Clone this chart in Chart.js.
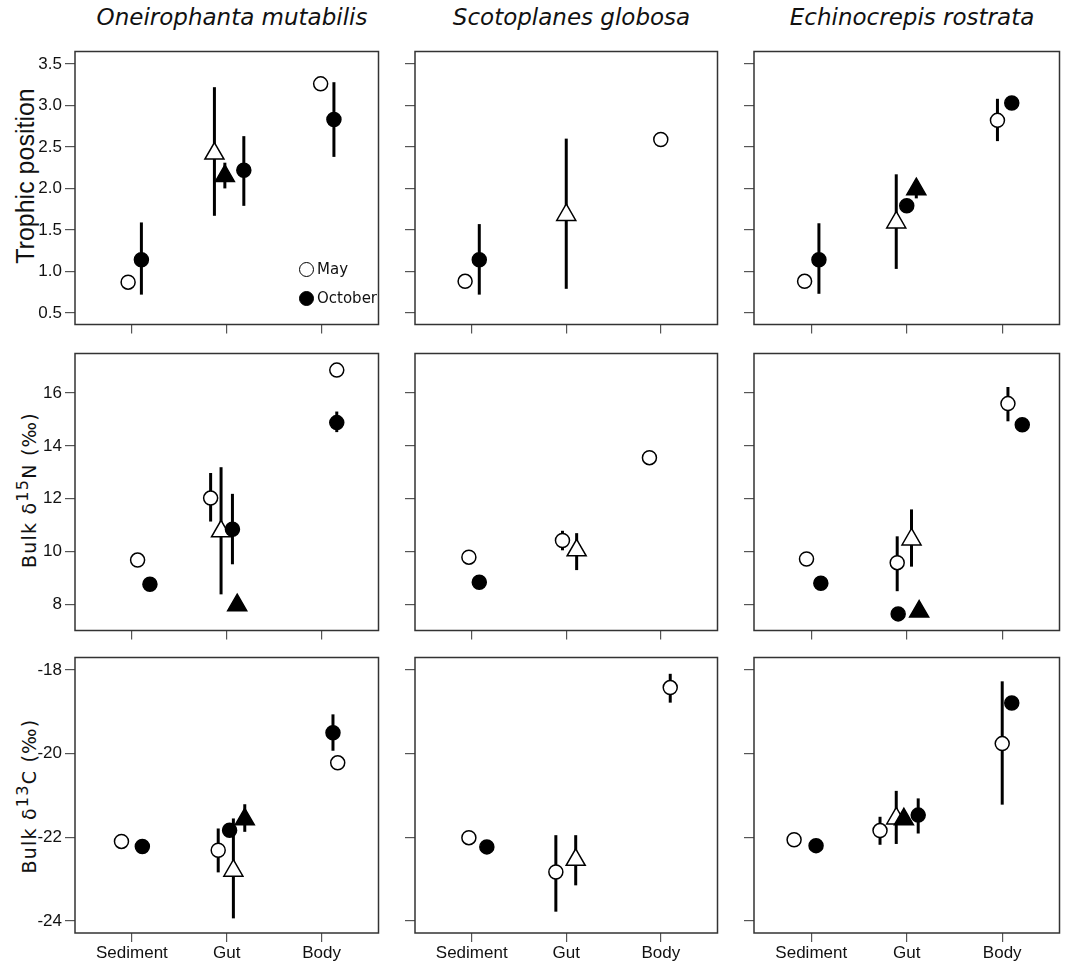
<!DOCTYPE html>
<html>
<head>
<meta charset="utf-8">
<script src="https://cdn.jsdelivr.net/npm/chart.js@4.4.1/dist/chart.umd.min.js"></script>
<style>
  body { margin: 0; background: #fff; }
  #wrap { position: relative; width: 1074px; height: 963px; overflow: hidden; background: #fff; }
  #wrap canvas { position: absolute; }
  .sp { position: absolute; top: 4px; height: 28px; line-height: 28px; text-align: center;
        font: italic 23px "DejaVu Sans"; color: #111; white-space: nowrap; }
  .yt { position: absolute; white-space: nowrap; color: #111;
        transform: translate(-50%, -50%) rotate(-90deg); }
  .yt sup { font-size: 0.85em; vertical-align: 0.5em; line-height: 0; }
  .lg { position: absolute; height: 29px; display: flex; align-items: center;
        font: 15px "DejaVu Sans"; color: #111; white-space: nowrap; }
  .lg span { display: inline-block; box-sizing: border-box; width: 15px; height: 15px;
             border: 1.5px solid #000; border-radius: 50%; margin-right: 3px; }
</style>
</head>
<body>
<div id="wrap"></div>
<script>
const categories = ['Sediment', 'Gut', 'Body'];
const species = ['Oneirophanta mutabilis', 'Scotoplanes globosa', 'Echinocrepis rostrata'];
const xTicks = [0, 1, 2];
const tpTicks = [0.5, 1.0, 1.5, 2.0, 2.5, 3.0, 3.5];
const n15Ticks = [8, 10, 12, 14, 16];
const c13Ticks = [-24, -22, -20, -18];

// ---- trophic position ----
// Oneirophanta mutabilis
const omTpMay = [0.87, null, 3.26];
const omTpMayErr = [null, null, null];
const omTpOct = [1.14, 2.22, 2.83];
const omTpOctErr = [[0.72, 1.59], [1.79, 2.63], [2.38, 3.28]];
const omTpMayTri = [null, 2.42, null];
const omTpMayTriErr = [null, [1.67, 3.22], null];
const omTpOctTri = [null, 2.15, null];
const omTpOctTriErr = [null, [2.0, 2.31], null];
// Scotoplanes globosa
const sgTpMay = [0.88, null, 2.59];
const sgTpMayErr = [null, null, null];
const sgTpOct = [1.14, null, null];
const sgTpOctErr = [[0.72, 1.57], null, null];
const sgTpMayTri = [null, 1.68, null];
const sgTpMayTriErr = [null, [0.79, 2.60], null];
const sgTpOctTri = [null, null, null];
const sgTpOctTriErr = [null, null, null];
// Echinocrepis rostrata
const erTpMay = [0.88, null, 2.82];
const erTpMayErr = [null, null, [2.57, 3.08]];
const erTpOct = [1.14, 1.79, 3.03];
const erTpOctErr = [[0.73, 1.58], null, null];
const erTpMayTri = [null, 1.59, null];
const erTpMayTriErr = [null, [1.03, 2.17], null];
const erTpOctTri = [null, 1.99, null];
const erTpOctTriErr = [null, [1.88, 2.08], null];

// ---- bulk d15N ----
const omNMay = [9.67, 12.02, 16.87];
const omNMayErr = [null, [11.13, 12.97], null];
const omNOct = [8.75, 10.84, 14.88];
const omNOctErr = [null, [9.51, 12.18], [14.52, 15.30]];
const omNMayTri = [null, 10.76, null];
const omNMayTriErr = [null, [8.37, 13.19], null];
const omNOctTri = [null, 7.96, null];
const omNOctTriErr = [null, null, null];

const sgNMay = [9.78, 10.41, 13.55];
const sgNMayErr = [null, [10.04, 10.78], null];
const sgNOct = [8.83, null, null];
const sgNOctErr = [null, null, null];
const sgNMayTri = [null, 10.04, null];
const sgNMayTriErr = [null, [9.29, 10.69], null];
const sgNOctTri = [null, null, null];
const sgNOctTriErr = [null, null, null];

const erNMay = [9.71, 9.57, 15.6];
const erNMayErr = [null, [8.49, 10.57], [14.93, 16.23]];
const erNOct = [8.79, 7.63, 14.80];
const erNOctErr = [null, null, null];
const erNMayTri = [null, 10.45, null];
const erNMayTriErr = [null, [9.42, 11.59], null];
const erNOctTri = [null, 7.72, null];
const erNOctTriErr = [null, null, null];

// ---- bulk d13C ----
const omCMay = [-22.10, -22.31, -20.22];
const omCMayErr = [null, [-22.84, -21.79], null];
const omCOct = [-22.22, -21.83, -19.50];
const omCOctErr = [null, null, [-19.93, -19.06]];
const omCMayTri = [null, -22.80, null];
const omCMayTriErr = [null, [-23.94, -21.55], null];
const omCOctTri = [null, -21.57, null];
const omCOctTriErr = [null, [-21.87, -21.21], null];

const sgCMay = [-22.01, -22.83, -18.42];
const sgCMayErr = [null, [-23.78, -21.95], [-18.78, -18.09]];
const sgCOct = [-22.23, null, null];
const sgCOctErr = [null, null, null];
const sgCMayTri = [null, -22.54, null];
const sgCMayTriErr = [null, [-23.15, -21.95], null];
const sgCOctTri = [null, null, null];
const sgCOctTriErr = [null, null, null];

const erCMay = [-22.06, -21.84, -19.76];
const erCMayErr = [null, [-22.18, -21.51], [-21.22, -18.27]];
const erCOct = [-22.20, -21.47, -18.79];
const erCOctErr = [null, [-21.91, -21.07], null];
const erCMayTri = [null, -21.55, null];
const erCMayTriErr = [null, [-22.16, -20.89], null];
const erCOctTri = [null, -21.57, null];
const erCOctTriErr = [null, null, null];

// dodge offsets within a category: May, October, May triangle, October triangle
const omTpDx = [[-0.04, 0, -0.01], [0.10, 0.18, 0.13], [0, -0.13, 0], [0, -0.02, 0]];
const sgTpDx = [[-0.07, 0, 0], [0.08, 0, 0], [0, 0, 0], [0, 0, 0]];
const erTpDx = [[-0.07, 0, -0.05], [0.08, 0, 0.10], [0, -0.11, 0], [0, 0.10, 0]];
const omNDx = [[0.06, -0.17, 0.16], [0.19, 0.06, 0.16], [0, -0.06, 0], [0, 0.11, 0]];
const sgNDx = [[-0.03, -0.04, -0.12], [0.08, 0, 0], [0, 0.11, 0], [0, 0, 0]];
const erNDx = [[-0.05, -0.10, 0.06], [0.10, -0.09, 0.21], [0, 0.05, 0], [0, 0.13, 0]];
const omCDx = [[-0.11, -0.09, 0.17], [0.11, 0.03, 0.12], [0, 0.07, 0], [0, 0.19, 0]];
const sgCDx = [[-0.03, -0.11, 0.10], [0.16, 0, 0], [0, 0.10, 0], [0, 0, 0]];
const erCDx = [[-0.18, -0.28, 0], [0.05, 0.12, 0.10], [0, -0.11, 0], [0, -0.03, 0]];

// page layout (pixels)
const colBox = [[75, 389], [415, 728], [754, 1070]];
const rowBox = [[43, 325], [345, 631], [649, 933]];
const yAxisW = [75, 26, 26];
const xAxisH = [12, 12, 30];
const yRange = [[0.36, 3.65], [7.0, 17.5], [-24.29, -17.7]];
const rowTicks = [tpTicks, n15Ticks, c13Ticks];

const panels = [
  [[omTpMay, omTpMayErr, omTpOct, omTpOctErr, omTpMayTri, omTpMayTriErr, omTpOctTri, omTpOctTriErr, omTpDx],
   [sgTpMay, sgTpMayErr, sgTpOct, sgTpOctErr, sgTpMayTri, sgTpMayTriErr, sgTpOctTri, sgTpOctTriErr, sgTpDx],
   [erTpMay, erTpMayErr, erTpOct, erTpOctErr, erTpMayTri, erTpMayTriErr, erTpOctTri, erTpOctTriErr, erTpDx]],
  [[omNMay, omNMayErr, omNOct, omNOctErr, omNMayTri, omNMayTriErr, omNOctTri, omNOctTriErr, omNDx],
   [sgNMay, sgNMayErr, sgNOct, sgNOctErr, sgNMayTri, sgNMayTriErr, sgNOctTri, sgNOctTriErr, sgNDx],
   [erNMay, erNMayErr, erNOct, erNOctErr, erNMayTri, erNMayTriErr, erNOctTri, erNOctTriErr, erNDx]],
  [[omCMay, omCMayErr, omCOct, omCOctErr, omCMayTri, omCMayTriErr, omCOctTri, omCOctTriErr, omCDx],
   [sgCMay, sgCMayErr, sgCOct, sgCOctErr, sgCMayTri, sgCMayTriErr, sgCOctTri, sgCOctTriErr, sgCDx],
   [erCMay, erCMayErr, erCOct, erCOctErr, erCMayTri, erCMayTriErr, erCOctTri, erCOctTriErr, erCDx]]
];

function points(vals, errs, dx) {
  const out = [];
  vals.forEach((v, i) => {
    if (v === null) return;
    out.push({ x: xTicks[i] + dx[i], y: v, err: errs[i] });
  });
  return out;
}

// error bars are drawn under the symbols
const errorBars = {
  id: 'errorBars',
  beforeDatasetsDraw(chart) {
    const ctx = chart.ctx;
    const ys = chart.scales.y;
    ctx.save();
    ctx.strokeStyle = '#000';
    ctx.lineWidth = 3;
    chart.data.datasets.forEach((ds, i) => {
      const meta = chart.getDatasetMeta(i);
      ds.data.forEach((d, j) => {
        if (!d.err) return;
        const x = meta.data[j].x;
        ctx.beginPath();
        ctx.moveTo(x, ys.getPixelForValue(d.err[0]));
        ctx.lineTo(x, ys.getPixelForValue(d.err[1]));
        ctx.stroke();
      });
    });
    ctx.restore();
  }
};

const frame = {
  id: 'frame',
  beforeDatasetsDraw(chart) {
    const { ctx, chartArea: a } = chart;
    ctx.save();
    ctx.strokeStyle = '#333';
    ctx.lineWidth = 1.5;
    ctx.strokeRect(a.left, a.top, a.right - a.left, a.bottom - a.top);
    ctx.restore();
  }
};

const wrap = document.getElementById('wrap');

// column titles
species.forEach((s, c) => {
  const d = document.createElement('div');
  d.className = 'sp';
  d.style.left = colBox[c][0] + 'px';
  d.style.width = (colBox[c][1] - colBox[c][0]) + 'px';
  d.textContent = s;
  wrap.appendChild(d);
});

// row titles
const rowTitleHtml = ['Trophic position', 'Bulk δ<sup>15</sup>N (‰)', 'Bulk δ<sup>13</sup>C (‰)'];
const rowTitleStyle = [
  { x: 25, y: 176, font: '25px "Liberation Sans"', ls: '0px' },
  { x: 29, y: 490, font: '19px "DejaVu Sans"', ls: '1.2px' },
  { x: 29, y: 796, font: '19px "DejaVu Sans"', ls: '1.2px' }
];
rowTitleHtml.forEach((t, r) => {
  const d = document.createElement('div');
  d.className = 'yt';
  d.style.left = rowTitleStyle[r].x + 'px';
  d.style.top = rowTitleStyle[r].y + 'px';
  d.style.font = rowTitleStyle[r].font;
  d.style.letterSpacing = rowTitleStyle[r].ls;
  d.innerHTML = t;
  wrap.appendChild(d);
});

const tickFont = { family: 'Liberation Sans', size: 17 };

panels.forEach((rowPanels, r) => {
  rowPanels.forEach((p, c) => {
    const [may, mayErr, oct, octErr, mayTri, mayTriErr, octTri, octTriErr, dx] = p;
    const boxW = colBox[c][1] - colBox[c][0];
    const boxH = rowBox[r][1] - rowBox[r][0];
    const cv = document.createElement('canvas');
    cv.width = yAxisW[c] + boxW + 2;
    cv.height = 4 + boxH + xAxisH[r];
    cv.style.left = (colBox[c][0] - yAxisW[c]) + 'px';
    cv.style.top = (rowBox[r][0] - 4) + 'px';
    wrap.appendChild(cv);

    const circle = { pointStyle: 'circle', pointRadius: 7, pointBorderColor: '#000', pointBorderWidth: 1.5, showLine: false };
    const tri = { pointStyle: 'triangle', pointRadius: 11, pointBorderColor: '#000', pointBorderWidth: 1.5, showLine: false };

    new Chart(cv.getContext('2d'), {
      type: 'scatter',
      data: {
        // first dataset is drawn on top
        datasets: [
          Object.assign({ label: 'October', data: points(oct, octErr, dx[1]), pointBackgroundColor: '#000' }, circle),
          Object.assign({ label: 'May', data: points(may, mayErr, dx[0]), pointBackgroundColor: '#fff' }, circle),
          Object.assign({ label: 'October (gut)', data: points(octTri, octTriErr, dx[3]), pointBackgroundColor: '#000' }, tri),
          Object.assign({ label: 'May (gut)', data: points(mayTri, mayTriErr, dx[2]), pointBackgroundColor: '#fff' }, tri)
        ]
      },
      options: {
        responsive: false,
        animation: false,
        events: [],
        layout: { padding: { top: 4, right: 2, left: 0, bottom: 0 } },
        plugins: { legend: { display: false }, tooltip: { enabled: false } },
        scales: {
          x: {
            type: 'linear',
            min: -0.6,
            max: 2.6,
            afterBuildTicks: s => { s.ticks = xTicks.map(v => ({ value: v })); },
            afterFit: s => { s.height = xAxisH[r]; s.paddingLeft = 0; s.paddingRight = 0; },
            grid: { drawOnChartArea: false, drawTicks: true, tickLength: 9, color: '#555', lineWidth: 1.2 },
            border: { display: false },
            ticks: { display: r === 2, callback: v => categories[v], font: tickFont, color: '#111',
                     padding: 1, maxRotation: 0, autoSkip: false }
          },
          y: {
            type: 'linear',
            min: yRange[r][0],
            max: yRange[r][1],
            afterBuildTicks: s => { s.ticks = rowTicks[r].map(v => ({ value: v })); },
            afterFit: s => { s.width = yAxisW[c]; s.paddingTop = 0; s.paddingBottom = 0; },
            grid: { drawOnChartArea: false, drawTicks: true, tickLength: 10, color: '#555', lineWidth: 1.2 },
            border: { display: false },
            ticks: { display: c === 0, callback: v => r === 0 ? v.toFixed(1) : String(v), font: tickFont,
                     color: '#111', padding: 3, autoSkip: false }
          }
        }
      },
      plugins: [frame, errorBars]
    });
  });
});

// legend of the first panel
const legendRows = [['May', '#fff', 269], ['October', '#000', 298]];
legendRows.forEach(([name, fill, cy]) => {
  const d = document.createElement('div');
  d.className = 'lg';
  d.style.left = '299px';
  d.style.top = (cy - 14.5) + 'px';
  d.innerHTML = '<span style="background:' + fill + '"></span>' + name;
  wrap.appendChild(d);
});
</script>
</body>
</html>
